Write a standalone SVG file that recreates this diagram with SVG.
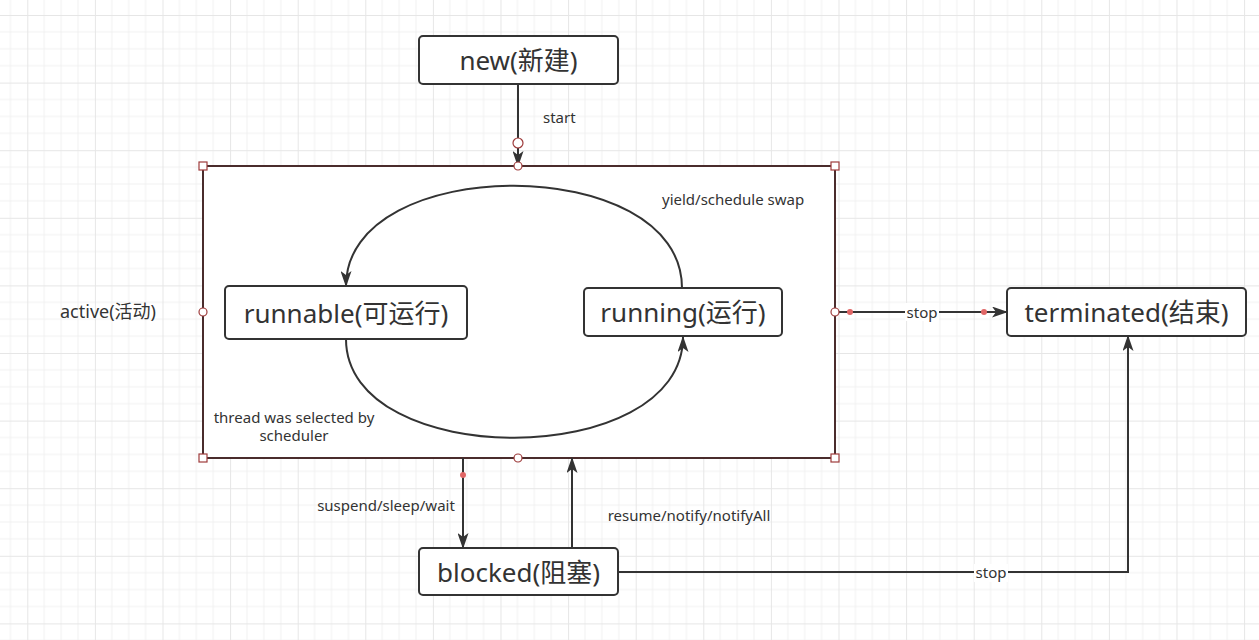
<svg xmlns="http://www.w3.org/2000/svg" width="1259" height="640" viewBox="0 0 1259 640">
<defs>
<pattern id="grid" x="27.3" y="15" width="67.6" height="67.6" patternUnits="userSpaceOnUse">
<path d="M16.9 0V67.6M33.8 0V67.6M50.7 0V67.6M0 16.9H67.6M0 33.8H67.6M0 50.7H67.6" stroke="#f1f1f1" stroke-width="1" fill="none"/>
<path d="M0.5 0V67.6M0 0.5H67.6" stroke="#e6e6e6" stroke-width="1" fill="none"/>
</pattern>
<marker id="arr" viewBox="0 0 16 11" refX="15" refY="5.5" markerWidth="16" markerHeight="11" orient="auto" markerUnits="userSpaceOnUse">
<path d="M0,0 L16,5.5 L0,11 L4,5.5 z" fill="#333"/>
</marker>
</defs>
<style>
.node rect{fill:#fff;stroke:#333;stroke-width:2}
.node text{font-family:"Noto Sans","Noto Sans CJK SC",sans-serif;font-size:26px;fill:#333;text-anchor:middle}
.lbl{font-family:"Noto Sans","Noto Sans CJK SC",sans-serif;font-size:15px;fill:#333}
.edge{fill:none;stroke:#333;stroke-width:2}
.hsq{fill:#fff;stroke:#9e3b3b;stroke-width:1.2}
.hci{fill:#fff;stroke:#9e3b3b;stroke-width:1.2}
.dot{fill:#e06666}
</style>
<rect width="1259" height="640" fill="#fff"/>
<rect width="1259" height="640" fill="url(#grid)"/>

<g id="active">
<rect x="203" y="166" width="632" height="292" fill="#fff" stroke="#4a2c2c" stroke-width="2"/>
<text class="lbl" x="60" y="318" style="font-size:18px">active(活动)</text>
</g>

<g id="new" class="node">
<rect x="419" y="36" width="199" height="48" rx="4"/>
<text x="518.5" y="70">new(新建)</text>
</g>
<g id="runnable" class="node">
<rect x="225" y="286" width="242" height="53" rx="4"/>
<text x="346" y="322.5">runnable(可运行)</text>
</g>
<g id="running" class="node">
<rect x="584" y="288" width="198" height="48" rx="4"/>
<text x="683" y="322">running(运行)</text>
</g>
<g id="terminated" class="node">
<rect x="1007" y="288" width="239" height="48" rx="4"/>
<text x="1126.5" y="322">terminated(结束)</text>
</g>
<g id="blocked" class="node">
<rect x="419" y="548" width="199" height="47" rx="4"/>
<text x="518.5" y="582">blocked(阻塞)</text>
</g>

<g id="connectors">
<path class="edge" d="M518 84V166" marker-end="url(#arr)"/>
<text class="lbl" x="543" y="123">start</text>

<path class="edge" d="M682 288C682 152 346 152 346 286" marker-end="url(#arr)"/>
<text class="lbl" x="662" y="205">yield/schedule swap</text>

<path class="edge" d="M346 339C346 471 683 471 683 337" marker-end="url(#arr)"/>
<text class="lbl" x="294" y="423" text-anchor="middle">thread was selected by</text>
<text class="lbl" x="294" y="441" text-anchor="middle">scheduler</text>

<path class="edge" d="M835 312H1007" marker-end="url(#arr)"/>
<rect x="905" y="303" width="34" height="18" fill="#fff"/>
<text class="lbl" x="922" y="318" text-anchor="middle">stop</text>

<path class="edge" d="M463 458V548" marker-end="url(#arr)"/>
<text class="lbl" x="386" y="511" text-anchor="middle">suspend/sleep/wait</text>

<path class="edge" d="M572 548V458" marker-end="url(#arr)"/>
<text class="lbl" x="689" y="521" text-anchor="middle">resume/notify/notifyAll</text>

<path class="edge" d="M618 572H1128V336" marker-end="url(#arr)"/>
<rect x="974" y="564" width="34" height="18" fill="#fff"/>
<text class="lbl" x="991" y="578" text-anchor="middle">stop</text>
</g>

<g id="handles">
<rect class="hsq" x="199" y="162" width="8" height="8"/>
<rect class="hsq" x="831" y="162" width="8" height="8"/>
<rect class="hsq" x="199" y="454" width="8" height="8"/>
<rect class="hsq" x="831" y="454" width="8" height="8"/>
<circle class="hci" cx="518" cy="166" r="4"/>
<circle class="hci" cx="203" cy="312" r="4"/>
<circle class="hci" cx="835" cy="312" r="4"/>
<circle class="hci" cx="518" cy="458" r="4"/>
<circle class="hci" cx="518" cy="143" r="5"/>
<circle class="dot" cx="850" cy="312" r="3"/>
<circle class="dot" cx="984" cy="312" r="3"/>
<circle class="dot" cx="463" cy="475" r="3"/>
</g>
</svg>
